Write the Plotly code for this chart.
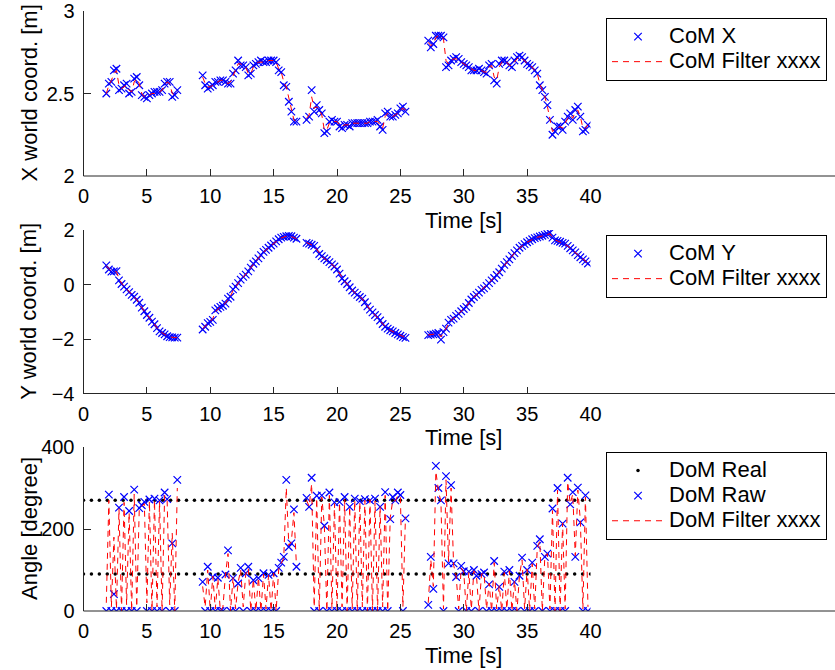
import numpy as np
import plotly.graph_objects as go

# ---------------- data ----------------
DT = 0.2
SEG_START = [1.8, 9.4, 17.6, 27.2]
SEG_LEN = [29, 38, 40, 64]

X_RAW = [
    [2.50, 2.56, 2.57, 2.64, 2.65, 2.52, 2.53, 2.55, 2.56, 2.50, 2.51, 2.59, 2.60, 2.55, 2.49,
     2.48, 2.47, 2.49, 2.50, 2.51, 2.51, 2.51, 2.52, 2.56, 2.57, 2.57, 2.48, 2.49, 2.52],
    [2.61, 2.55, 2.53, 2.54, 2.55, 2.57, 2.57, 2.58, 2.58, 2.57, 2.56, 2.56, 2.62, 2.64, 2.70,
     2.67, 2.67, 2.66, 2.61, 2.62, 2.67, 2.68, 2.69, 2.70, 2.69, 2.69, 2.70, 2.70, 2.70, 2.69,
     2.64, 2.63, 2.55, 2.54, 2.45, 2.39, 2.33, 2.33],
    [2.34, 2.36, 2.52, 2.39, 2.43, 2.40, 2.38, 2.26, 2.27, 2.33, 2.34, 2.33, 2.33, 2.30, 2.29,
     2.31, 2.31, 2.30, 2.32, 2.32, 2.32, 2.32, 2.32, 2.32, 2.32, 2.33, 2.33, 2.33, 2.34, 2.30,
     2.28, 2.38, 2.39, 2.36, 2.36, 2.37, 2.38, 2.41, 2.42, 2.39],
    [2.82, 2.78, 2.80, 2.85, 2.85, 2.85, 2.84, 2.66, 2.67, 2.70, 2.71, 2.72, 2.71, 2.69, 2.68,
     2.67, 2.66, 2.64, 2.64, 2.64, 2.65, 2.64, 2.63, 2.62, 2.67, 2.68, 2.58, 2.56, 2.68, 2.70,
     2.70, 2.69, 2.67, 2.66, 2.70, 2.72, 2.73, 2.72, 2.70, 2.68, 2.67, 2.66, 2.64, 2.62, 2.55,
     2.52, 2.48, 2.43, 2.34, 2.25, 2.27, 2.30, 2.30, 2.28, 2.33, 2.36, 2.38, 2.34, 2.40, 2.42,
     2.36, 2.27, 2.28, 2.31],
]
X_FILT = [
    [2.50, 2.55, 2.58, 2.62, 2.64, 2.55, 2.53, 2.54, 2.55, 2.52, 2.51, 2.57, 2.59, 2.56, 2.50,
     2.48, 2.48, 2.49, 2.50, 2.50, 2.51, 2.51, 2.52, 2.55, 2.57, 2.56, 2.50, 2.49, 2.51],
    [2.60, 2.56, 2.54, 2.54, 2.55, 2.56, 2.57, 2.58, 2.58, 2.57, 2.56, 2.57, 2.61, 2.64, 2.68,
     2.68, 2.67, 2.66, 2.62, 2.62, 2.66, 2.68, 2.69, 2.69, 2.69, 2.69, 2.70, 2.70, 2.70, 2.69,
     2.65, 2.63, 2.57, 2.54, 2.47, 2.40, 2.34, 2.33],
    [2.35, 2.37, 2.48, 2.41, 2.42, 2.40, 2.37, 2.28, 2.28, 2.32, 2.33, 2.33, 2.33, 2.31, 2.30,
     2.31, 2.31, 2.31, 2.32, 2.32, 2.32, 2.32, 2.32, 2.32, 2.32, 2.33, 2.33, 2.33, 2.33, 2.31,
     2.29, 2.36, 2.38, 2.37, 2.36, 2.37, 2.38, 2.40, 2.41, 2.40],
    [2.81, 2.79, 2.80, 2.84, 2.85, 2.85, 2.83, 2.70, 2.68, 2.70, 2.71, 2.71, 2.70, 2.69, 2.68,
     2.67, 2.66, 2.65, 2.64, 2.64, 2.64, 2.64, 2.63, 2.63, 2.66, 2.67, 2.60, 2.58, 2.66, 2.69,
     2.70, 2.69, 2.67, 2.67, 2.69, 2.71, 2.72, 2.71, 2.70, 2.68, 2.67, 2.66, 2.64, 2.62, 2.56,
     2.52, 2.48, 2.42, 2.35, 2.27, 2.28, 2.29, 2.30, 2.29, 2.32, 2.35, 2.37, 2.35, 2.39, 2.40,
     2.36, 2.29, 2.29, 2.31],
]

Y_RAW = [
    [0.70, 0.55, 0.47, 0.48, 0.49, 0.15, 0.02, -0.08, -0.18, -0.28, -0.38, -0.45, -0.56, -0.67,
     -0.85, -0.98, -1.12, -1.22, -1.36, -1.46, -1.60, -1.72, -1.78, -1.83, -1.90, -1.93, -1.94,
     -1.95, -1.95],
    [-1.65, -1.55, -1.42, -1.37, -1.30, -0.95, -0.88, -0.82, -0.78, -0.70, -0.52, -0.45, -0.18,
     -0.08, 0.05, 0.18, 0.28, 0.36, 0.48, 0.62, 0.76, 0.85, 0.96, 1.08, 1.20, 1.27, 1.35, 1.43,
     1.50, 1.58, 1.66, 1.72, 1.75, 1.77, 1.78, 1.77, 1.72, 1.68],
    [1.53, 1.50, 1.46, 1.42, 1.28, 1.12, 1.04, 0.96, 0.90, 0.82, 0.74, 0.66, 0.55, 0.40, 0.22,
     0.12, 0.02, -0.10, -0.22, -0.30, -0.38, -0.46, -0.52, -0.65, -0.80, -0.92, -1.02, -1.12,
     -1.20, -1.32, -1.45, -1.55, -1.62, -1.68, -1.72, -1.78, -1.83, -1.88, -1.93, -1.96],
    [-1.86, -1.84, -1.83, -1.80, -1.78, -2.02, -1.75, -1.62, -1.40, -1.30, -1.25, -1.15, -1.08,
     -0.98, -0.90, -0.82, -0.68, -0.55, -0.46, -0.38, -0.30, -0.20, -0.14, -0.05, 0.05, 0.15,
     0.24, 0.35, 0.45, 0.58, 0.72, 0.82, 0.92, 1.05, 1.15, 1.25, 1.35, 1.42, 1.48, 1.55, 1.60,
     1.66, 1.70, 1.73, 1.76, 1.79, 1.82, 1.85, 1.90, 1.72, 1.62, 1.60, 1.57, 1.53, 1.50, 1.42,
     1.33, 1.25, 1.18, 1.08, 1.00, 0.92, 0.85, 0.77],
]
Y_FILT = [
    [0.68, 0.58, 0.50, 0.48, 0.47, 0.22, 0.05, -0.06, -0.17, -0.27, -0.36, -0.46, -0.56, -0.68,
     -0.84, -0.98, -1.10, -1.23, -1.35, -1.47, -1.59, -1.70, -1.77, -1.84, -1.89, -1.92, -1.94,
     -1.95, -1.95],
    [-1.62, -1.52, -1.44, -1.36, -1.25, -1.00, -0.89, -0.82, -0.76, -0.68, -0.54, -0.42, -0.22,
     -0.08, 0.04, 0.17, 0.27, 0.37, 0.49, 0.62, 0.75, 0.86, 0.97, 1.08, 1.19, 1.27, 1.35, 1.43,
     1.51, 1.58, 1.65, 1.71, 1.75, 1.77, 1.77, 1.76, 1.72, 1.68],
    [1.54, 1.50, 1.46, 1.41, 1.29, 1.14, 1.04, 0.96, 0.89, 0.82, 0.74, 0.66, 0.55, 0.41, 0.24,
     0.12, 0.02, -0.09, -0.21, -0.30, -0.38, -0.45, -0.53, -0.65, -0.79, -0.91, -1.02, -1.11,
     -1.21, -1.32, -1.44, -1.54, -1.62, -1.68, -1.73, -1.78, -1.83, -1.88, -1.92, -1.95],
    [-1.85, -1.84, -1.82, -1.80, -1.80, -1.92, -1.78, -1.62, -1.43, -1.31, -1.24, -1.15, -1.07,
     -0.98, -0.90, -0.81, -0.68, -0.56, -0.46, -0.38, -0.29, -0.21, -0.13, -0.04, 0.05, 0.15,
     0.25, 0.35, 0.46, 0.58, 0.71, 0.82, 0.93, 1.04, 1.15, 1.25, 1.34, 1.42, 1.49, 1.55, 1.61,
     1.66, 1.70, 1.73, 1.76, 1.79, 1.82, 1.85, 1.86, 1.74, 1.64, 1.60, 1.56, 1.53, 1.49, 1.42,
     1.33, 1.25, 1.17, 1.08, 1.00, 0.92, 0.85, 0.78],
]

DOM_RAW = [
    [0, 284, 0, 41, 0, 252, 0, 278, 0, 244, 0, 296, 0, 251, 258, 266, 0, 272, 0, 274, 0, 270, 0,
     289, 273, 0, 165, 0, 320],
    [71, 0, 108, 0, 83, 0, 81, 0, 0, 89, 148, 0, 80, 0, 67, 105, 0, 92, 108, 0, 75, 0, 80, 0, 92,
     0, 88, 0, 92, 0, 105, 118, 132, 320, 156, 165, 248, 108],
    [276, 254, 325, 0, 281, 0, 282, 208, 0, 289, 0, 265, 0, 266, 0, 278, 0, 254, 0, 274, 0, 268,
     0, 273, 0, 270, 0, 274, 0, 254, 0, 290, 0, 224, 278, 270, 289, 283, 0, 226],
    [15, 132, 54, 354, 300, 270, 0, 329, 116, 307, 116, 83, 0, 110, 97, 0, 96, 0, 100, 86, 0, 90,
     94, 0, 65, 0, 122, 0, 59, 0, 96, 0, 100, 0, 71, 0, 86, 130, 0, 100, 0, 118, 0, 159, 175, 0,
     132, 140, 0, 250, 0, 300, 0, 213, 0, 325, 260, 290, 132, 301, 216, 0, 282, 0],
]
DOM_FILT = [
    [20, 270, 10, 180, 5, 250, 0, 265, 15, 240, 0, 285, 10, 250, 255, 262, 20, 268, 0, 270, 10,
     268, 0, 282, 268, 15, 190, 0, 300],
    [60, 10, 100, 0, 85, 5, 80, 0, 10, 88, 140, 0, 82, 5, 70, 100, 10, 90, 105, 0, 78, 0, 82, 0,
     90, 5, 88, 0, 92, 0, 102, 115, 130, 300, 160, 170, 240, 110],
    [270, 255, 310, 10, 275, 0, 278, 210, 0, 282, 5, 262, 0, 265, 10, 272, 0, 255, 5, 270, 0, 266,
     10, 270, 0, 272, 0, 268, 0, 255, 10, 282, 0, 228, 270, 268, 282, 280, 10, 230],
    [20, 125, 60, 340, 295, 265, 5, 320, 120, 300, 112, 85, 5, 105, 95, 0, 94, 5, 98, 88, 0, 90,
     92, 5, 68, 0, 118, 5, 62, 0, 94, 5, 98, 0, 74, 0, 88, 125, 5, 102, 0, 115, 5, 155, 170, 0,
     135, 140, 5, 245, 0, 295, 0, 215, 5, 315, 262, 285, 135, 295, 220, 5, 278, 10],
]

REAL_LEVELS = [90, 270]
REAL_STEP = 0.625
REAL_END = 40.0

X_TICKS = [0, 5, 10, 15, 20, 25, 30, 35, 40]
Y1_TICKS = [2, 2.5, 3]
Y2_TICKS = [-4, -2, 0, 2]
Y3_TICKS = [0, 200, 400]


# ---------------- helpers ----------------
def seg_times():
    return [list(np.round(s + DT * np.arange(n), 2)) for s, n in zip(SEG_START, SEG_LEN)]


def join(segs):
    out = []
    for i, s in enumerate(segs):
        if i:
            out.append(None)
        out.extend(s)
    return out


T = join(seg_times())
real_t = list(np.round(np.arange(0, REAL_END + 1e-9, REAL_STEP), 3))
REAL_X = real_t + [None] + real_t
REAL_Y = [REAL_LEVELS[0]] * len(real_t) + [None] + [REAL_LEVELS[1]] * len(real_t)

W, H = 835, 670
FONT = "Liberation Sans, Arial, Helvetica, sans-serif"
FS = 22      # labels / legend
TFS = 20     # tick labels
AX = "#262626"

xl, xr = 83.5 / W, 590.5 / W
panels = [(11, 176), (230, 393.5), (447, 611)]  # top/bottom pixel of each axes
ydom = [[1 - b / H, 1 - t / H] for t, b in panels]
XLABEL_X = 463.5 / W


def lg(txt):
    return '<span style="font-size:%dpx">%s</span>' % (FS, txt)


fig = go.Figure()

blue = dict(symbol="x-thin", size=7.5, color="#0000ff", line=dict(color="#0000ff", width=1.2))
red_line = dict(color="#ff0000", width=1, dash="6px,5px")

# panel 1
fig.add_trace(go.Scatter(x=T, y=join(X_RAW), mode="markers", marker=blue, name=lg("CoM X"),
                         xaxis="x", yaxis="y", legend="legend"))
fig.add_trace(go.Scatter(x=T, y=join(X_FILT), mode="lines", line=red_line,
                         name=lg("CoM Filter xxxx"), xaxis="x", yaxis="y", legend="legend"))
# panel 2
fig.add_trace(go.Scatter(x=T, y=join(Y_RAW), mode="markers", marker=blue, name=lg("CoM Y"),
                         xaxis="x2", yaxis="y2", legend="legend2"))
fig.add_trace(go.Scatter(x=T, y=join(Y_FILT), mode="lines", line=red_line,
                         name=lg("CoM Filter xxxx"), xaxis="x2", yaxis="y2", legend="legend2"))
# panel 3
fig.add_trace(go.Scatter(x=REAL_X, y=REAL_Y, mode="markers",
                         marker=dict(symbol="circle", size=3.5, color="black"),
                         name=lg("DoM Real"), xaxis="x3", yaxis="y3", legend="legend3"))
fig.add_trace(go.Scatter(x=T, y=join(DOM_RAW), mode="markers", marker=blue, name=lg("DoM Raw"),
                         xaxis="x3", yaxis="y3", legend="legend3"))
fig.add_trace(go.Scatter(x=T, y=join(DOM_FILT), mode="lines", line=red_line,
                         name=lg("DoM Filter xxxx"), xaxis="x3", yaxis="y3", legend="legend3"))

tickfont = dict(family=FONT, size=TFS, color="black")


def xaxis(anchor):
    return dict(domain=[xl, xr], range=[0, 40], anchor=anchor, tickvals=X_TICKS,
                ticks="inside", ticklen=7, tickcolor=AX, showline=False, showgrid=False,
                zeroline=False, tickfont=tickfont, ticklabelstandoff=6, automargin=False,
                ticklabeloverflow="allow")


def yaxis(anchor, dom, rng, tv):
    return dict(domain=dom, range=rng, anchor=anchor, tickvals=tv, ticks="inside", ticklen=7,
                tickcolor=AX, showline=True, linecolor=AX, linewidth=1, showgrid=False,
                zeroline=False, tickfont=tickfont, ticklabelstandoff=4, automargin=False,
                ticklabeloverflow="allow")


legend_common = dict(bgcolor="white", bordercolor="black", borderwidth=1, xanchor="left",
                     yanchor="top", font=dict(family=FONT, size=17, color="black"),
                     itemwidth=52, tracegroupgap=0)

shapes = []
for d in ydom:
    shapes.append(dict(type="line", xref="paper", yref="paper", x0=xl, x1=1.0, y0=d[0], y1=d[0],
                       line=dict(color=AX, width=1)))

annotations = []
ytitles = ["X world coord. [m]", "Y world coord. [m]", "Angle [degree]"]
for (t, b), txt in zip(panels, ytitles):
    annotations.append(dict(text=txt, xref="paper", yref="paper", x=29 / W, y=1 - (t + b) / 2 / H,
                            textangle=-90, showarrow=False, xanchor="center", yanchor="middle",
                            font=dict(family=FONT, size=FS, color="black")))
    annotations.append(dict(text="Time [s]", xref="paper", yref="paper", x=XLABEL_X,
                            y=1 - (b + 44) / H, showarrow=False, xanchor="center",
                            yanchor="middle", font=dict(family=FONT, size=FS, color="black")))

fig.update_layout(
    width=W, height=H, margin=dict(l=0, r=0, t=0, b=0, autoexpand=False),
    paper_bgcolor="white", plot_bgcolor="white", showlegend=True,
    font=dict(family=FONT, size=FS, color="black"),
    xaxis=xaxis("y"), xaxis2=xaxis("y2"), xaxis3=xaxis("y3"),
    yaxis=yaxis("x", ydom[0], [2, 3], Y1_TICKS),
    yaxis2=yaxis("x2", ydom[1], [-4, 2], Y2_TICKS),
    yaxis3=yaxis("x3", ydom[2], [0, 400], Y3_TICKS),
    legend=dict(x=606 / W, y=1 - 18 / H, **legend_common),
    legend2=dict(x=606 / W, y=1 - 235 / H, **legend_common),
    legend3=dict(x=606 / W, y=1 - 452 / H, **legend_common),
    shapes=shapes, annotations=annotations,
)

fig.write_html("out.html")
